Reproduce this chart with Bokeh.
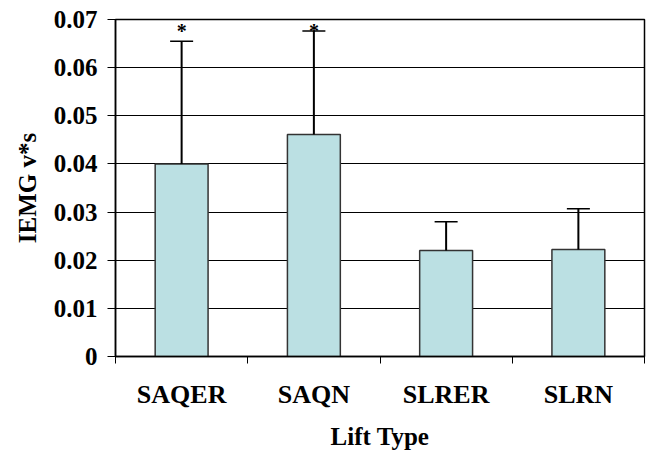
from bokeh.plotting import figure
from bokeh.models import FixedTicker, Range1d, ColumnDataSource
from bokeh.core.properties import value
from bokeh.embed import file_html
from bokeh.resources import INLINE

# ---- data ----
categories = ["SAQER", "SAQN", "SLRER", "SLRN"]
means = [0.0400, 0.0461, 0.0220, 0.0222]
errors = [0.0255, 0.0215, 0.0060, 0.0085]
significance = ["*", "*", "", ""]
y_ticks = [0.0, 0.01, 0.02, 0.03, 0.04, 0.05, 0.06, 0.07]
y_tick_labels = ["0", "0.01", "0.02", "0.03", "0.04", "0.05", "0.06", "0.07"]
x_label = "Lift Type"
y_label = "IEMG v*s"

FONT = "Liberation Serif"
idx = list(range(len(categories)))
tops = [m + e for m, e in zip(means, errors)]
cap_half = 0.087

src = ColumnDataSource(dict(
    x=idx, mean=means, top=tops, sig=significance,
    cap0=[i - cap_half for i in idx], cap1=[i + cap_half for i in idx],
    star_y=[0.0677] * len(idx),
))

p = figure(width=648, height=452,
           x_range=Range1d(-0.5, len(categories) - 0.5),
           y_range=Range1d(y_ticks[0], y_ticks[-1]),
           output_backend="svg", toolbar_location=None,
           min_border_left=115, min_border_right=4,
           min_border_top=19, min_border_bottom=94)

p.background_fill_color = "white"
p.border_fill_color = "white"
p.outline_line_color = "black"
p.outline_line_width = 1.5

# grid
p.xgrid.visible = False
yt = FixedTicker(ticks=y_ticks)
p.yaxis.ticker = yt
p.ygrid.ticker = yt
p.ygrid.grid_line_color = "black"
p.ygrid.grid_line_width = 1

# y axis
p.yaxis.major_label_overrides = {t: l for t, l in zip(y_ticks, y_tick_labels)}
p.yaxis.minor_tick_line_color = None
p.yaxis.major_tick_out = 8
p.yaxis.major_tick_in = 0
p.yaxis.major_tick_line_color = "black"
p.yaxis.axis_line_color = "black"
p.yaxis.axis_line_width = 1.5
p.yaxis.major_label_standoff = 10
p.yaxis.major_label_text_font = FONT
p.yaxis.major_label_text_font_style = "bold"
p.yaxis.major_label_text_font_size = "25px"
p.yaxis.major_label_text_color = "black"
p.yaxis.axis_label = y_label
p.yaxis.axis_label_text_font = FONT
p.yaxis.axis_label_text_font_style = "bold"
p.yaxis.axis_label_text_font_size = "25px"
p.yaxis.axis_label_text_color = "black"
p.yaxis.axis_label_standoff = 10

# x axis: labels at category centres, ticks at category boundaries
xt = FixedTicker(ticks=idx, minor_ticks=[i - 0.5 for i in range(len(categories) + 1)])
p.xaxis.ticker = xt
p.xaxis.major_label_overrides = {i: c for i, c in zip(idx, categories)}
p.xaxis.major_tick_line_color = None
p.xaxis.major_tick_out = 0
p.xaxis.major_tick_in = 0
p.xaxis.minor_tick_line_color = "black"
p.xaxis.minor_tick_out = 7
p.xaxis.minor_tick_in = 0
p.xaxis.axis_line_color = "black"
p.xaxis.axis_line_width = 1.5
p.xaxis.major_label_standoff = 16
p.xaxis.major_label_text_font = FONT
p.xaxis.major_label_text_font_style = "bold"
p.xaxis.major_label_text_font_size = "26px"
p.xaxis.major_label_text_color = "black"
p.xaxis.axis_label = x_label
p.xaxis.axis_label_text_font = FONT
p.xaxis.axis_label_text_font_style = "bold"
p.xaxis.axis_label_text_font_size = "25px"
p.xaxis.axis_label_text_color = "black"
p.xaxis.axis_label_standoff = 11

# bars
p.vbar(x="x", top="mean", bottom=0, width=0.4, source=src,
       fill_color="#BBE0E3", line_color="#333333", line_width=1.5)

# error bars (upper only)
p.segment(x0="x", y0="mean", x1="x", y1="top", source=src,
          line_color="black", line_width=2)
p.segment(x0="cap0", y0="top", x1="cap1", y1="top", source=src,
          line_color="black", line_width=1.5)

# significance stars
p.text(x="x", y="star_y", text="sig", source=src,
       text_font=value(FONT), text_font_style="bold", text_font_size="20px",
       text_align="center", text_baseline="middle", text_color="black")

open("out.html", "w").write(file_html(p, INLINE))
